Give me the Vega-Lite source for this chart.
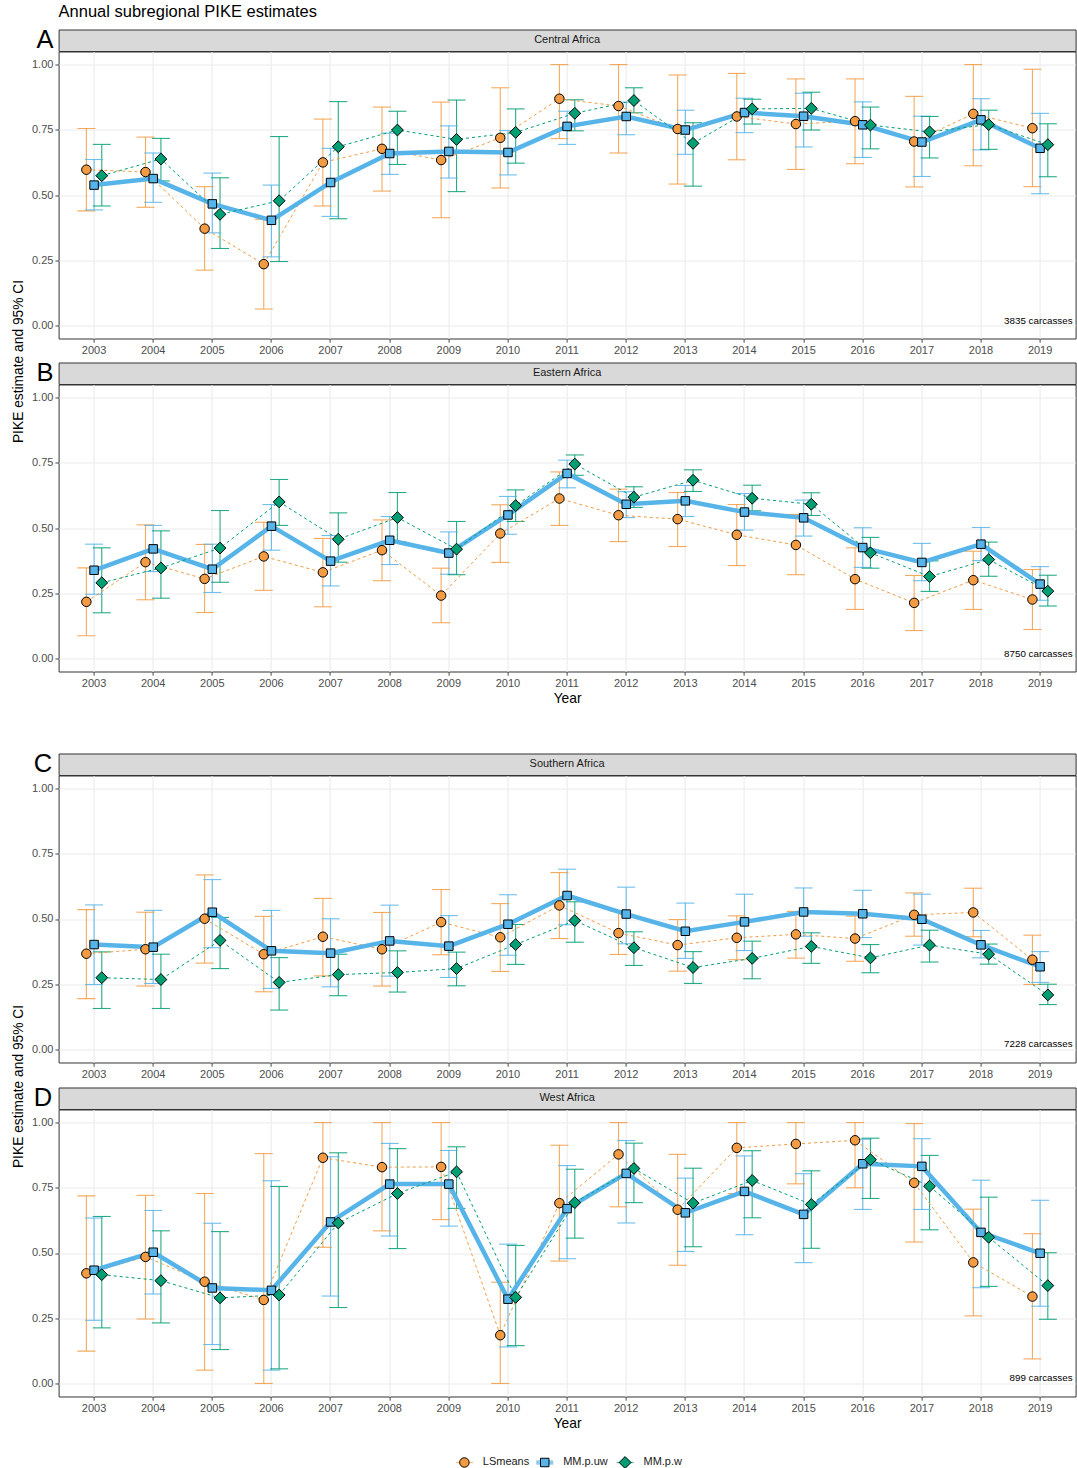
{
"$schema":"https://vega.github.io/schema/vega-lite/v6.json",
"background":"white",
"padding":{"left":10.6,"top":3.5,"right":2,"bottom":0},
"title":{"text":"Annual subregional PIKE estimates","anchor":"start","frame":"group","fontSize":16.5,"fontWeight":"normal","color":"#000","offset":7},
"config":{
 "font":"Liberation Sans",
 "view":{"stroke":"#333333","strokeWidth":1},
 "axis":{"domain":false,"labelColor":"#4D4D4D","labelFontSize":11,"labelPadding":2,"tickColor":"#333333","tickSize":3.7,"tickWidth":0.9,"gridColor":"#EBEBEB","gridWidth":1.1,"titleFontSize":13.8,"titleFontWeight":"normal","titleColor":"#000"}
},
"datasets":{
"central":[
{"year":2003,"method":"LSmeans","est":0.597,"lo":0.439,"hi":0.755},{"year":2003,"method":"MM.p.uw","est":0.538,"lo":0.443,"hi":0.636},{"year":2003,"method":"MM.p.w","est":0.574,"lo":0.458,"hi":0.694},
{"year":2004,"method":"LSmeans","est":0.588,"lo":0.453,"hi":0.722},{"year":2004,"method":"MM.p.uw","est":0.563,"lo":0.472,"hi":0.661},{"year":2004,"method":"MM.p.w","est":0.638,"lo":0.554,"hi":0.717},
{"year":2005,"method":"LSmeans","est":0.371,"lo":0.212,"hi":0.532},{"year":2005,"method":"MM.p.uw","est":0.466,"lo":0.355,"hi":0.584},{"year":2005,"method":"MM.p.w","est":0.426,"lo":0.295,"hi":0.566},
{"year":2006,"method":"LSmeans","est":0.235,"lo":0.063,"hi":0.407},{"year":2006,"method":"MM.p.uw","est":0.403,"lo":0.263,"hi":0.538},{"year":2006,"method":"MM.p.w","est":0.478,"lo":0.245,"hi":0.724},
{"year":2007,"method":"LSmeans","est":0.625,"lo":0.458,"hi":0.791},{"year":2007,"method":"MM.p.uw","est":0.548,"lo":0.418,"hi":0.679},{"year":2007,"method":"MM.p.w","est":0.685,"lo":0.409,"hi":0.858},
{"year":2008,"method":"LSmeans","est":0.677,"lo":0.515,"hi":0.837},{"year":2008,"method":"MM.p.uw","est":0.659,"lo":0.579,"hi":0.737},{"year":2008,"method":"MM.p.w","est":0.749,"lo":0.617,"hi":0.821},
{"year":2009,"method":"LSmeans","est":0.634,"lo":0.413,"hi":0.856},{"year":2009,"method":"MM.p.uw","est":0.667,"lo":0.565,"hi":0.765},{"year":2009,"method":"MM.p.w","est":0.713,"lo":0.513,"hi":0.864},
{"year":2010,"method":"LSmeans","est":0.719,"lo":0.527,"hi":0.911},{"year":2010,"method":"MM.p.uw","est":0.663,"lo":0.577,"hi":0.747},{"year":2010,"method":"MM.p.w","est":0.740,"lo":0.622,"hi":0.830},
{"year":2011,"method":"LSmeans","est":0.869,"lo":0.716,"hi":1.0},{"year":2011,"method":"MM.p.uw","est":0.763,"lo":0.694,"hi":0.821},{"year":2011,"method":"MM.p.w","est":0.813,"lo":0.746,"hi":0.865},
{"year":2012,"method":"LSmeans","est":0.841,"lo":0.661,"hi":1.0},{"year":2012,"method":"MM.p.uw","est":0.801,"lo":0.731,"hi":0.856},{"year":2012,"method":"MM.p.w","est":0.862,"lo":0.815,"hi":0.911},
{"year":2013,"method":"LSmeans","est":0.753,"lo":0.542,"hi":0.960},{"year":2013,"method":"MM.p.uw","est":0.749,"lo":0.656,"hi":0.825},{"year":2013,"method":"MM.p.w","est":0.698,"lo":0.534,"hi":0.777},
{"year":2014,"method":"LSmeans","est":0.801,"lo":0.635,"hi":0.966},{"year":2014,"method":"MM.p.uw","est":0.816,"lo":0.739,"hi":0.871},{"year":2014,"method":"MM.p.w","est":0.830,"lo":0.772,"hi":0.867},
{"year":2015,"method":"LSmeans","est":0.772,"lo":0.598,"hi":0.945},{"year":2015,"method":"MM.p.uw","est":0.802,"lo":0.684,"hi":0.890},{"year":2015,"method":"MM.p.w","est":0.832,"lo":0.749,"hi":0.894},
{"year":2016,"method":"LSmeans","est":0.783,"lo":0.620,"hi":0.945},{"year":2016,"method":"MM.p.uw","est":0.769,"lo":0.644,"hi":0.857},{"year":2016,"method":"MM.p.w","est":0.768,"lo":0.677,"hi":0.837},
{"year":2017,"method":"LSmeans","est":0.705,"lo":0.531,"hi":0.878},{"year":2017,"method":"MM.p.uw","est":0.703,"lo":0.571,"hi":0.802},{"year":2017,"method":"MM.p.w","est":0.742,"lo":0.642,"hi":0.801},
{"year":2018,"method":"LSmeans","est":0.811,"lo":0.612,"hi":1.0},{"year":2018,"method":"MM.p.uw","est":0.788,"lo":0.673,"hi":0.869},{"year":2018,"method":"MM.p.w","est":0.770,"lo":0.675,"hi":0.825},
{"year":2019,"method":"LSmeans","est":0.756,"lo":0.532,"hi":0.982},{"year":2019,"method":"MM.p.uw","est":0.679,"lo":0.505,"hi":0.813},{"year":2019,"method":"MM.p.w","est":0.693,"lo":0.570,"hi":0.773}
],
"eastern":[
{"year":2003,"method":"LSmeans","est":0.217,"lo":0.087,"hi":0.347},{"year":2003,"method":"MM.p.uw","est":0.338,"lo":0.246,"hi":0.438},{"year":2003,"method":"MM.p.w","est":0.290,"lo":0.175,"hi":0.424},
{"year":2004,"method":"LSmeans","est":0.369,"lo":0.225,"hi":0.512},{"year":2004,"method":"MM.p.uw","est":0.420,"lo":0.333,"hi":0.510},{"year":2004,"method":"MM.p.w","est":0.347,"lo":0.231,"hi":0.489},
{"year":2005,"method":"LSmeans","est":0.305,"lo":0.176,"hi":0.437},{"year":2005,"method":"MM.p.uw","est":0.342,"lo":0.253,"hi":0.438},{"year":2005,"method":"MM.p.w","est":0.423,"lo":0.292,"hi":0.567},
{"year":2006,"method":"LSmeans","est":0.391,"lo":0.261,"hi":0.522},{"year":2006,"method":"MM.p.uw","est":0.507,"lo":0.415,"hi":0.590},{"year":2006,"method":"MM.p.w","est":0.600,"lo":0.510,"hi":0.686},
{"year":2007,"method":"LSmeans","est":0.330,"lo":0.198,"hi":0.460},{"year":2007,"method":"MM.p.uw","est":0.373,"lo":0.278,"hi":0.471},{"year":2007,"method":"MM.p.w","est":0.457,"lo":0.369,"hi":0.558},
{"year":2008,"method":"LSmeans","est":0.415,"lo":0.298,"hi":0.531},{"year":2008,"method":"MM.p.uw","est":0.453,"lo":0.360,"hi":0.544},{"year":2008,"method":"MM.p.w","est":0.540,"lo":0.447,"hi":0.636},
{"year":2009,"method":"LSmeans","est":0.241,"lo":0.137,"hi":0.346},{"year":2009,"method":"MM.p.uw","est":0.404,"lo":0.323,"hi":0.485},{"year":2009,"method":"MM.p.w","est":0.419,"lo":0.321,"hi":0.525},
{"year":2010,"method":"LSmeans","est":0.479,"lo":0.368,"hi":0.589},{"year":2010,"method":"MM.p.uw","est":0.550,"lo":0.476,"hi":0.621},{"year":2010,"method":"MM.p.w","est":0.586,"lo":0.525,"hi":0.646},
{"year":2011,"method":"LSmeans","est":0.613,"lo":0.510,"hi":0.715},{"year":2011,"method":"MM.p.uw","est":0.709,"lo":0.654,"hi":0.760},{"year":2011,"method":"MM.p.w","est":0.745,"lo":0.702,"hi":0.780},
{"year":2012,"method":"LSmeans","est":0.549,"lo":0.448,"hi":0.649},{"year":2012,"method":"MM.p.uw","est":0.591,"lo":0.540,"hi":0.639},{"year":2012,"method":"MM.p.w","est":0.618,"lo":0.579,"hi":0.658},
{"year":2013,"method":"LSmeans","est":0.534,"lo":0.429,"hi":0.636},{"year":2013,"method":"MM.p.uw","est":0.604,"lo":0.544,"hi":0.663},{"year":2013,"method":"MM.p.w","est":0.683,"lo":0.640,"hi":0.723},
{"year":2014,"method":"LSmeans","est":0.474,"lo":0.356,"hi":0.590},{"year":2014,"method":"MM.p.uw","est":0.561,"lo":0.492,"hi":0.632},{"year":2014,"method":"MM.p.w","est":0.614,"lo":0.566,"hi":0.664},
{"year":2015,"method":"LSmeans","est":0.435,"lo":0.321,"hi":0.552},{"year":2015,"method":"MM.p.uw","est":0.539,"lo":0.469,"hi":0.607},{"year":2015,"method":"MM.p.w","est":0.591,"lo":0.548,"hi":0.635},
{"year":2016,"method":"LSmeans","est":0.304,"lo":0.188,"hi":0.424},{"year":2016,"method":"MM.p.uw","est":0.425,"lo":0.349,"hi":0.501},{"year":2016,"method":"MM.p.w","est":0.405,"lo":0.346,"hi":0.464},
{"year":2017,"method":"LSmeans","est":0.213,"lo":0.107,"hi":0.318},{"year":2017,"method":"MM.p.uw","est":0.368,"lo":0.298,"hi":0.441},{"year":2017,"method":"MM.p.w","est":0.314,"lo":0.257,"hi":0.374},
{"year":2018,"method":"LSmeans","est":0.300,"lo":0.188,"hi":0.411},{"year":2018,"method":"MM.p.uw","est":0.438,"lo":0.375,"hi":0.502},{"year":2018,"method":"MM.p.w","est":0.379,"lo":0.315,"hi":0.446},
{"year":2019,"method":"LSmeans","est":0.226,"lo":0.111,"hi":0.341},{"year":2019,"method":"MM.p.uw","est":0.285,"lo":0.223,"hi":0.352},{"year":2019,"method":"MM.p.w","est":0.258,"lo":0.201,"hi":0.319}
],
"southern":[
{"year":2003,"method":"LSmeans","est":0.367,"lo":0.195,"hi":0.536},{"year":2003,"method":"MM.p.uw","est":0.402,"lo":0.249,"hi":0.554},{"year":2003,"method":"MM.p.w","est":0.275,"lo":0.157,"hi":0.374},
{"year":2004,"method":"LSmeans","est":0.384,"lo":0.243,"hi":0.526},{"year":2004,"method":"MM.p.uw","est":0.392,"lo":0.253,"hi":0.533},{"year":2004,"method":"MM.p.w","est":0.268,"lo":0.157,"hi":0.365},
{"year":2005,"method":"LSmeans","est":0.501,"lo":0.331,"hi":0.669},{"year":2005,"method":"MM.p.uw","est":0.526,"lo":0.390,"hi":0.651},{"year":2005,"method":"MM.p.w","est":0.418,"lo":0.310,"hi":0.506},
{"year":2006,"method":"LSmeans","est":0.365,"lo":0.221,"hi":0.510},{"year":2006,"method":"MM.p.uw","est":0.378,"lo":0.234,"hi":0.533},{"year":2006,"method":"MM.p.w","est":0.257,"lo":0.151,"hi":0.352},
{"year":2007,"method":"LSmeans","est":0.432,"lo":0.282,"hi":0.579},{"year":2007,"method":"MM.p.uw","est":0.369,"lo":0.240,"hi":0.501},{"year":2007,"method":"MM.p.w","est":0.287,"lo":0.206,"hi":0.365},
{"year":2008,"method":"LSmeans","est":0.384,"lo":0.243,"hi":0.525},{"year":2008,"method":"MM.p.uw","est":0.416,"lo":0.281,"hi":0.553},{"year":2008,"method":"MM.p.w","est":0.295,"lo":0.220,"hi":0.378},
{"year":2009,"method":"LSmeans","est":0.488,"lo":0.363,"hi":0.613},{"year":2009,"method":"MM.p.uw","est":0.396,"lo":0.276,"hi":0.513},{"year":2009,"method":"MM.p.w","est":0.310,"lo":0.244,"hi":0.373},
{"year":2010,"method":"LSmeans","est":0.430,"lo":0.299,"hi":0.559},{"year":2010,"method":"MM.p.uw","est":0.480,"lo":0.361,"hi":0.593},{"year":2010,"method":"MM.p.w","est":0.402,"lo":0.326,"hi":0.479},
{"year":2011,"method":"LSmeans","est":0.552,"lo":0.425,"hi":0.678},{"year":2011,"method":"MM.p.uw","est":0.590,"lo":0.478,"hi":0.691},{"year":2011,"method":"MM.p.w","est":0.494,"lo":0.411,"hi":0.566},
{"year":2012,"method":"LSmeans","est":0.446,"lo":0.364,"hi":0.531},{"year":2012,"method":"MM.p.uw","est":0.519,"lo":0.405,"hi":0.622},{"year":2012,"method":"MM.p.w","est":0.390,"lo":0.322,"hi":0.451},
{"year":2013,"method":"LSmeans","est":0.400,"lo":0.300,"hi":0.498},{"year":2013,"method":"MM.p.uw","est":0.453,"lo":0.349,"hi":0.561},{"year":2013,"method":"MM.p.w","est":0.314,"lo":0.253,"hi":0.375},
{"year":2014,"method":"LSmeans","est":0.428,"lo":0.344,"hi":0.512},{"year":2014,"method":"MM.p.uw","est":0.489,"lo":0.379,"hi":0.595},{"year":2014,"method":"MM.p.w","est":0.349,"lo":0.271,"hi":0.415},
{"year":2015,"method":"LSmeans","est":0.441,"lo":0.350,"hi":0.529},{"year":2015,"method":"MM.p.uw","est":0.527,"lo":0.434,"hi":0.619},{"year":2015,"method":"MM.p.w","est":0.395,"lo":0.330,"hi":0.447},
{"year":2016,"method":"LSmeans","est":0.425,"lo":0.338,"hi":0.511},{"year":2016,"method":"MM.p.uw","est":0.520,"lo":0.429,"hi":0.610},{"year":2016,"method":"MM.p.w","est":0.351,"lo":0.294,"hi":0.402},
{"year":2017,"method":"LSmeans","est":0.516,"lo":0.434,"hi":0.600},{"year":2017,"method":"MM.p.uw","est":0.499,"lo":0.400,"hi":0.595},{"year":2017,"method":"MM.p.w","est":0.400,"lo":0.335,"hi":0.457},
{"year":2018,"method":"LSmeans","est":0.525,"lo":0.432,"hi":0.618},{"year":2018,"method":"MM.p.uw","est":0.401,"lo":0.351,"hi":0.456},{"year":2018,"method":"MM.p.w","est":0.365,"lo":0.327,"hi":0.404},
{"year":2019,"method":"LSmeans","est":0.344,"lo":0.249,"hi":0.438},{"year":2019,"method":"MM.p.uw","est":0.317,"lo":0.257,"hi":0.375},{"year":2019,"method":"MM.p.w","est":0.209,"lo":0.172,"hi":0.250}
],
"west":[
{"year":2003,"method":"LSmeans","est":0.422,"lo":0.124,"hi":0.719},{"year":2003,"method":"MM.p.uw","est":0.434,"lo":0.242,"hi":0.634},{"year":2003,"method":"MM.p.w","est":0.417,"lo":0.213,"hi":0.640},
{"year":2004,"method":"LSmeans","est":0.485,"lo":0.247,"hi":0.721},{"year":2004,"method":"MM.p.uw","est":0.503,"lo":0.343,"hi":0.663},{"year":2004,"method":"MM.p.w","est":0.394,"lo":0.232,"hi":0.585},
{"year":2005,"method":"LSmeans","est":0.390,"lo":0.051,"hi":0.728},{"year":2005,"method":"MM.p.uw","est":0.366,"lo":0.149,"hi":0.614},{"year":2005,"method":"MM.p.w","est":0.328,"lo":0.130,"hi":0.582},
{"year":2006,"method":"LSmeans","est":0.320,"lo":0.0,"hi":0.881},{"year":2006,"method":"MM.p.uw","est":0.357,"lo":0.051,"hi":0.777},{"year":2006,"method":"MM.p.w","est":0.339,"lo":0.056,"hi":0.755},
{"year":2007,"method":"LSmeans","est":0.865,"lo":0.522,"hi":1.0},{"year":2007,"method":"MM.p.uw","est":0.619,"lo":0.335,"hi":0.869},{"year":2007,"method":"MM.p.w","est":0.615,"lo":0.291,"hi":0.884},
{"year":2008,"method":"LSmeans","est":0.829,"lo":0.585,"hi":1.0},{"year":2008,"method":"MM.p.uw","est":0.764,"lo":0.565,"hi":0.920},{"year":2008,"method":"MM.p.w","est":0.728,"lo":0.517,"hi":0.900},
{"year":2009,"method":"LSmeans","est":0.830,"lo":0.628,"hi":1.0},{"year":2009,"method":"MM.p.uw","est":0.764,"lo":0.603,"hi":0.893},{"year":2009,"method":"MM.p.w","est":0.811,"lo":0.671,"hi":0.907},
{"year":2010,"method":"LSmeans","est":0.185,"lo":0.0,"hi":0.388},{"year":2010,"method":"MM.p.uw","est":0.323,"lo":0.140,"hi":0.534},{"year":2010,"method":"MM.p.w","est":0.330,"lo":0.145,"hi":0.529},
{"year":2011,"method":"LSmeans","est":0.691,"lo":0.469,"hi":0.913},{"year":2011,"method":"MM.p.uw","est":0.670,"lo":0.478,"hi":0.835},{"year":2011,"method":"MM.p.w","est":0.693,"lo":0.557,"hi":0.821},
{"year":2012,"method":"LSmeans","est":0.878,"lo":0.677,"hi":1.0},{"year":2012,"method":"MM.p.uw","est":0.805,"lo":0.615,"hi":0.931},{"year":2012,"method":"MM.p.w","est":0.824,"lo":0.693,"hi":0.921},
{"year":2013,"method":"LSmeans","est":0.666,"lo":0.453,"hi":0.878},{"year":2013,"method":"MM.p.uw","est":0.654,"lo":0.506,"hi":0.787},{"year":2013,"method":"MM.p.w","est":0.691,"lo":0.524,"hi":0.825},
{"year":2014,"method":"LSmeans","est":0.903,"lo":0.728,"hi":1.0},{"year":2014,"method":"MM.p.uw","est":0.736,"lo":0.570,"hi":0.872},{"year":2014,"method":"MM.p.w","est":0.778,"lo":0.635,"hi":0.892},
{"year":2015,"method":"LSmeans","est":0.918,"lo":0.765,"hi":1.0},{"year":2015,"method":"MM.p.uw","est":0.648,"lo":0.463,"hi":0.804},{"year":2015,"method":"MM.p.w","est":0.686,"lo":0.518,"hi":0.815},
{"year":2016,"method":"LSmeans","est":0.932,"lo":0.750,"hi":1.0},{"year":2016,"method":"MM.p.uw","est":0.842,"lo":0.667,"hi":0.936},{"year":2016,"method":"MM.p.w","est":0.858,"lo":0.709,"hi":0.940},
{"year":2017,"method":"LSmeans","est":0.769,"lo":0.542,"hi":0.996},{"year":2017,"method":"MM.p.uw","est":0.832,"lo":0.667,"hi":0.938},{"year":2017,"method":"MM.p.w","est":0.756,"lo":0.589,"hi":0.874},
{"year":2018,"method":"LSmeans","est":0.464,"lo":0.259,"hi":0.668},{"year":2018,"method":"MM.p.uw","est":0.579,"lo":0.367,"hi":0.779},{"year":2018,"method":"MM.p.w","est":0.560,"lo":0.372,"hi":0.714},
{"year":2019,"method":"LSmeans","est":0.333,"lo":0.094,"hi":0.574},{"year":2019,"method":"MM.p.uw","est":0.499,"lo":0.296,"hi":0.702},{"year":2019,"method":"MM.p.w","est":0.375,"lo":0.246,"hi":0.501}
],
"methods":[{"method":"LSmeans"},{"method":"MM.p.uw"},{"method":"MM.p.w"}]
},
"bounds":"flush",
"spacing":0,
"vconcat":[
{"width":1017,"height":21.5,"data":{"values":[{"lab":"Central Africa"}]},"mark":{"type":"text","fontSize":11,"color":"#1A1A1A"},"encoding":{"text":{"field":"lab"}},"view":{"fill":"#D9D9D9","stroke":"#333333"},"title":{"text":"A","orient":"left","angle":0,"fontSize":25.5,"fontWeight":"normal","color":"#000","anchor":"middle","align":"right","baseline":"middle","offset":-12}},
{"width":1017,"height":287,"data":{"name":"central"},"layer":[
 {"mark":{"type":"rule","strokeWidth":1.1,"opacity":0.85},"encoding":{
  "x":{"field":"year","type":"ordinal","scale":{"type":"band","paddingInner":0,"paddingOuter":0.1},"axis":{"title":null,"labelAngle":0,"grid":true,"bandPosition":0.5}},
  "xOffset":{"field":"method","type":"nominal","scale":{"type":"band","paddingInner":0,"paddingOuter":0,"domain":["LSmeans","MM.p.uw","MM.p.w"],"range":[18.01,41.11]}},
  "y":{"field":"lo","type":"quantitative","scale":{"domain":[-0.05,1.05],"nice":false,"zero":false},"axis":{"title":null,"values":[0,0.125,0.25,0.375,0.5,0.625,0.75,0.875,1],"labelExpr":"datum.value % 0.25 === 0 ? format(datum.value, '.2f') : ''","gridWidth":{"condition":{"test":"datum.value % 0.25 === 0","value":1.1},"value":0.55},"tickOpacity":{"condition":{"test":"datum.value % 0.25 === 0","value":1},"value":0}}},
  "y2":{"field":"hi"},
  "color":{"field":"method","type":"nominal","scale":{"domain":["LSmeans","MM.p.uw","MM.p.w"],"range":["#F29B43","#56B4E9","#009E73"]},"legend":null}}},
 {"mark":{"type":"tick","orient":"horizontal","size":18,"thickness":1.1,"opacity":0.85},"encoding":{"x":{"field":"year","type":"ordinal"},"xOffset":{"field":"method","type":"nominal"},"y":{"field":"lo","type":"quantitative"},"color":{"field":"method","type":"nominal","legend":null}}},
 {"mark":{"type":"tick","orient":"horizontal","size":18,"thickness":1.1,"opacity":0.85},"encoding":{"x":{"field":"year","type":"ordinal"},"xOffset":{"field":"method","type":"nominal"},"y":{"field":"hi","type":"quantitative"},"color":{"field":"method","type":"nominal","legend":null}}},
 {"transform":[{"filter":"datum.method === 'LSmeans'"}],"mark":{"type":"line","color":"#F29B43","strokeWidth":1,"strokeDash":[3,3]},"encoding":{"x":{"field":"year","type":"ordinal"},"xOffset":{"field":"method","type":"nominal"},"y":{"field":"est","type":"quantitative"}}},
 {"transform":[{"filter":"datum.method === 'MM.p.uw'"}],"mark":{"type":"line","color":"#56B4E9","strokeWidth":4.5},"encoding":{"x":{"field":"year","type":"ordinal"},"xOffset":{"field":"method","type":"nominal"},"y":{"field":"est","type":"quantitative"}}},
 {"transform":[{"filter":"datum.method === 'MM.p.w'"}],"mark":{"type":"line","color":"#009E73","strokeWidth":1,"strokeDash":[3,3]},"encoding":{"x":{"field":"year","type":"ordinal"},"xOffset":{"field":"method","type":"nominal"},"y":{"field":"est","type":"quantitative"}}},
 {"transform":[{"filter":"datum.method === 'LSmeans'"}],"mark":{"type":"point","shape":"circle","size":90,"filled":true,"fill":"#F29B43","stroke":"#000","strokeWidth":1,"opacity":1},"encoding":{"x":{"field":"year","type":"ordinal"},"xOffset":{"field":"method","type":"nominal"},"y":{"field":"est","type":"quantitative"}}},
 {"transform":[{"filter":"datum.method === 'MM.p.uw'"}],"mark":{"type":"point","shape":"square","size":72,"filled":true,"fill":"#56B4E9","stroke":"#000","strokeWidth":1,"opacity":1},"encoding":{"x":{"field":"year","type":"ordinal"},"xOffset":{"field":"method","type":"nominal"},"y":{"field":"est","type":"quantitative"}}},
 {"transform":[{"filter":"datum.method === 'MM.p.w'"}],"mark":{"type":"point","shape":"diamond","size":140,"filled":true,"fill":"#009E73","stroke":"#000","strokeWidth":1,"opacity":1},"encoding":{"x":{"field":"year","type":"ordinal"},"xOffset":{"field":"method","type":"nominal"},"y":{"field":"est","type":"quantitative"}}},
 {"data":{"values":[{"t":"3835 carcasses"}]},"mark":{"type":"text","x":"width","y":"height","dx":-3,"dy":-18,"align":"right","baseline":"middle","fontSize":9.8,"color":"#000"},"encoding":{"text":{"field":"t"}}}
]},
{"width":1017,"height":24,"data":{"values":[]},"mark":"text","view":{"stroke":null}},
{"width":1017,"height":21.5,"data":{"values":[{"lab":"Eastern Africa"}]},"mark":{"type":"text","fontSize":11,"color":"#1A1A1A"},"encoding":{"text":{"field":"lab"}},"view":{"fill":"#D9D9D9","stroke":"#333333"},"title":{"text":"B","orient":"left","angle":0,"fontSize":25.5,"fontWeight":"normal","color":"#000","anchor":"middle","align":"right","baseline":"middle","offset":-12}},
{"width":1017,"height":287,"data":{"name":"eastern"},"layer":[
 {"mark":{"type":"rule","strokeWidth":1.1,"opacity":0.85},"encoding":{
  "x":{"field":"year","type":"ordinal","scale":{"type":"band","paddingInner":0,"paddingOuter":0.1},"axis":{"title":"Year","labelAngle":0,"grid":true,"bandPosition":0.5,"titlePadding":3}},
  "xOffset":{"field":"method","type":"nominal","scale":{"type":"band","paddingInner":0,"paddingOuter":0,"domain":["LSmeans","MM.p.uw","MM.p.w"],"range":[18.01,41.11]}},
  "y":{"field":"lo","type":"quantitative","scale":{"domain":[-0.05,1.05],"nice":false,"zero":false},"axis":{"title":"PIKE estimate and 95% CI","titleX":-40,"titleY":-23.5,"titleBaseline":"middle","values":[0,0.125,0.25,0.375,0.5,0.625,0.75,0.875,1],"labelExpr":"datum.value % 0.25 === 0 ? format(datum.value, '.2f') : ''","gridWidth":{"condition":{"test":"datum.value % 0.25 === 0","value":1.1},"value":0.55},"tickOpacity":{"condition":{"test":"datum.value % 0.25 === 0","value":1},"value":0}}},
  "y2":{"field":"hi"},
  "color":{"field":"method","type":"nominal","scale":{"domain":["LSmeans","MM.p.uw","MM.p.w"],"range":["#F29B43","#56B4E9","#009E73"]},"legend":null}}},
 {"mark":{"type":"tick","orient":"horizontal","size":18,"thickness":1.1,"opacity":0.85},"encoding":{"x":{"field":"year","type":"ordinal"},"xOffset":{"field":"method","type":"nominal"},"y":{"field":"lo","type":"quantitative"},"color":{"field":"method","type":"nominal","legend":null}}},
 {"mark":{"type":"tick","orient":"horizontal","size":18,"thickness":1.1,"opacity":0.85},"encoding":{"x":{"field":"year","type":"ordinal"},"xOffset":{"field":"method","type":"nominal"},"y":{"field":"hi","type":"quantitative"},"color":{"field":"method","type":"nominal","legend":null}}},
 {"transform":[{"filter":"datum.method === 'LSmeans'"}],"mark":{"type":"line","color":"#F29B43","strokeWidth":1,"strokeDash":[3,3]},"encoding":{"x":{"field":"year","type":"ordinal"},"xOffset":{"field":"method","type":"nominal"},"y":{"field":"est","type":"quantitative"}}},
 {"transform":[{"filter":"datum.method === 'MM.p.uw'"}],"mark":{"type":"line","color":"#56B4E9","strokeWidth":4.5},"encoding":{"x":{"field":"year","type":"ordinal"},"xOffset":{"field":"method","type":"nominal"},"y":{"field":"est","type":"quantitative"}}},
 {"transform":[{"filter":"datum.method === 'MM.p.w'"}],"mark":{"type":"line","color":"#009E73","strokeWidth":1,"strokeDash":[3,3]},"encoding":{"x":{"field":"year","type":"ordinal"},"xOffset":{"field":"method","type":"nominal"},"y":{"field":"est","type":"quantitative"}}},
 {"transform":[{"filter":"datum.method === 'LSmeans'"}],"mark":{"type":"point","shape":"circle","size":90,"filled":true,"fill":"#F29B43","stroke":"#000","strokeWidth":1,"opacity":1},"encoding":{"x":{"field":"year","type":"ordinal"},"xOffset":{"field":"method","type":"nominal"},"y":{"field":"est","type":"quantitative"}}},
 {"transform":[{"filter":"datum.method === 'MM.p.uw'"}],"mark":{"type":"point","shape":"square","size":72,"filled":true,"fill":"#56B4E9","stroke":"#000","strokeWidth":1,"opacity":1},"encoding":{"x":{"field":"year","type":"ordinal"},"xOffset":{"field":"method","type":"nominal"},"y":{"field":"est","type":"quantitative"}}},
 {"transform":[{"filter":"datum.method === 'MM.p.w'"}],"mark":{"type":"point","shape":"diamond","size":140,"filled":true,"fill":"#009E73","stroke":"#000","strokeWidth":1,"opacity":1},"encoding":{"x":{"field":"year","type":"ordinal"},"xOffset":{"field":"method","type":"nominal"},"y":{"field":"est","type":"quantitative"}}},
 {"data":{"values":[{"t":"8750 carcasses"}]},"mark":{"type":"text","x":"width","y":"height","dx":-3,"dy":-18,"align":"right","baseline":"middle","fontSize":9.8,"color":"#000"},"encoding":{"text":{"field":"t"}}}
]},
{"width":1017,"height":81.5,"data":{"values":[]},"mark":"text","view":{"stroke":null}},
{"width":1017,"height":21.5,"data":{"values":[{"lab":"Southern Africa"}]},"mark":{"type":"text","fontSize":11,"color":"#1A1A1A"},"encoding":{"text":{"field":"lab"}},"view":{"fill":"#D9D9D9","stroke":"#333333"},"title":{"text":"C","orient":"left","angle":0,"fontSize":25.5,"fontWeight":"normal","color":"#000","anchor":"middle","align":"right","baseline":"middle","offset":-12}},
{"width":1017,"height":287,"data":{"name":"southern"},"layer":[
 {"mark":{"type":"rule","strokeWidth":1.1,"opacity":0.85},"encoding":{
  "x":{"field":"year","type":"ordinal","scale":{"type":"band","paddingInner":0,"paddingOuter":0.1},"axis":{"title":null,"labelAngle":0,"grid":true,"bandPosition":0.5}},
  "xOffset":{"field":"method","type":"nominal","scale":{"type":"band","paddingInner":0,"paddingOuter":0,"domain":["LSmeans","MM.p.uw","MM.p.w"],"range":[18.01,41.11]}},
  "y":{"field":"lo","type":"quantitative","scale":{"domain":[-0.05,1.05],"nice":false,"zero":false},"axis":{"title":null,"values":[0,0.125,0.25,0.375,0.5,0.625,0.75,0.875,1],"labelExpr":"datum.value % 0.25 === 0 ? format(datum.value, '.2f') : ''","gridWidth":{"condition":{"test":"datum.value % 0.25 === 0","value":1.1},"value":0.55},"tickOpacity":{"condition":{"test":"datum.value % 0.25 === 0","value":1},"value":0}}},
  "y2":{"field":"hi"},
  "color":{"field":"method","type":"nominal","scale":{"domain":["LSmeans","MM.p.uw","MM.p.w"],"range":["#F29B43","#56B4E9","#009E73"]},"legend":null}}},
 {"mark":{"type":"tick","orient":"horizontal","size":18,"thickness":1.1,"opacity":0.85},"encoding":{"x":{"field":"year","type":"ordinal"},"xOffset":{"field":"method","type":"nominal"},"y":{"field":"lo","type":"quantitative"},"color":{"field":"method","type":"nominal","legend":null}}},
 {"mark":{"type":"tick","orient":"horizontal","size":18,"thickness":1.1,"opacity":0.85},"encoding":{"x":{"field":"year","type":"ordinal"},"xOffset":{"field":"method","type":"nominal"},"y":{"field":"hi","type":"quantitative"},"color":{"field":"method","type":"nominal","legend":null}}},
 {"transform":[{"filter":"datum.method === 'LSmeans'"}],"mark":{"type":"line","color":"#F29B43","strokeWidth":1,"strokeDash":[3,3]},"encoding":{"x":{"field":"year","type":"ordinal"},"xOffset":{"field":"method","type":"nominal"},"y":{"field":"est","type":"quantitative"}}},
 {"transform":[{"filter":"datum.method === 'MM.p.uw'"}],"mark":{"type":"line","color":"#56B4E9","strokeWidth":4.5},"encoding":{"x":{"field":"year","type":"ordinal"},"xOffset":{"field":"method","type":"nominal"},"y":{"field":"est","type":"quantitative"}}},
 {"transform":[{"filter":"datum.method === 'MM.p.w'"}],"mark":{"type":"line","color":"#009E73","strokeWidth":1,"strokeDash":[3,3]},"encoding":{"x":{"field":"year","type":"ordinal"},"xOffset":{"field":"method","type":"nominal"},"y":{"field":"est","type":"quantitative"}}},
 {"transform":[{"filter":"datum.method === 'LSmeans'"}],"mark":{"type":"point","shape":"circle","size":90,"filled":true,"fill":"#F29B43","stroke":"#000","strokeWidth":1,"opacity":1},"encoding":{"x":{"field":"year","type":"ordinal"},"xOffset":{"field":"method","type":"nominal"},"y":{"field":"est","type":"quantitative"}}},
 {"transform":[{"filter":"datum.method === 'MM.p.uw'"}],"mark":{"type":"point","shape":"square","size":72,"filled":true,"fill":"#56B4E9","stroke":"#000","strokeWidth":1,"opacity":1},"encoding":{"x":{"field":"year","type":"ordinal"},"xOffset":{"field":"method","type":"nominal"},"y":{"field":"est","type":"quantitative"}}},
 {"transform":[{"filter":"datum.method === 'MM.p.w'"}],"mark":{"type":"point","shape":"diamond","size":140,"filled":true,"fill":"#009E73","stroke":"#000","strokeWidth":1,"opacity":1},"encoding":{"x":{"field":"year","type":"ordinal"},"xOffset":{"field":"method","type":"nominal"},"y":{"field":"est","type":"quantitative"}}},
 {"data":{"values":[{"t":"7228 carcasses"}]},"mark":{"type":"text","x":"width","y":"height","dx":-3,"dy":-18,"align":"right","baseline":"middle","fontSize":9.8,"color":"#000"},"encoding":{"text":{"field":"t"}}}
]},
{"width":1017,"height":24.5,"data":{"values":[]},"mark":"text","view":{"stroke":null}},
{"width":1017,"height":21.5,"data":{"values":[{"lab":"West Africa"}]},"mark":{"type":"text","fontSize":11,"color":"#1A1A1A"},"encoding":{"text":{"field":"lab"}},"view":{"fill":"#D9D9D9","stroke":"#333333"},"title":{"text":"D","orient":"left","angle":0,"fontSize":25.5,"fontWeight":"normal","color":"#000","anchor":"middle","align":"right","baseline":"middle","offset":-12}},
{"width":1017,"height":287,"data":{"name":"west"},"layer":[
 {"mark":{"type":"rule","strokeWidth":1.1,"opacity":0.85},"encoding":{
  "x":{"field":"year","type":"ordinal","scale":{"type":"band","paddingInner":0,"paddingOuter":0.1},"axis":{"title":"Year","labelAngle":0,"grid":true,"bandPosition":0.5,"titlePadding":3}},
  "xOffset":{"field":"method","type":"nominal","scale":{"type":"band","paddingInner":0,"paddingOuter":0,"domain":["LSmeans","MM.p.uw","MM.p.w"],"range":[18.01,41.11]}},
  "y":{"field":"lo","type":"quantitative","scale":{"domain":[-0.05,1.05],"nice":false,"zero":false},"axis":{"title":"PIKE estimate and 95% CI","titleX":-40,"titleY":-23.5,"titleBaseline":"middle","values":[0,0.125,0.25,0.375,0.5,0.625,0.75,0.875,1],"labelExpr":"datum.value % 0.25 === 0 ? format(datum.value, '.2f') : ''","gridWidth":{"condition":{"test":"datum.value % 0.25 === 0","value":1.1},"value":0.55},"tickOpacity":{"condition":{"test":"datum.value % 0.25 === 0","value":1},"value":0}}},
  "y2":{"field":"hi"},
  "color":{"field":"method","type":"nominal","scale":{"domain":["LSmeans","MM.p.uw","MM.p.w"],"range":["#F29B43","#56B4E9","#009E73"]},"legend":null}}},
 {"mark":{"type":"tick","orient":"horizontal","size":18,"thickness":1.1,"opacity":0.85},"encoding":{"x":{"field":"year","type":"ordinal"},"xOffset":{"field":"method","type":"nominal"},"y":{"field":"lo","type":"quantitative"},"color":{"field":"method","type":"nominal","legend":null}}},
 {"mark":{"type":"tick","orient":"horizontal","size":18,"thickness":1.1,"opacity":0.85},"encoding":{"x":{"field":"year","type":"ordinal"},"xOffset":{"field":"method","type":"nominal"},"y":{"field":"hi","type":"quantitative"},"color":{"field":"method","type":"nominal","legend":null}}},
 {"transform":[{"filter":"datum.method === 'LSmeans'"}],"mark":{"type":"line","color":"#F29B43","strokeWidth":1,"strokeDash":[3,3]},"encoding":{"x":{"field":"year","type":"ordinal"},"xOffset":{"field":"method","type":"nominal"},"y":{"field":"est","type":"quantitative"}}},
 {"transform":[{"filter":"datum.method === 'MM.p.uw'"}],"mark":{"type":"line","color":"#56B4E9","strokeWidth":4.5},"encoding":{"x":{"field":"year","type":"ordinal"},"xOffset":{"field":"method","type":"nominal"},"y":{"field":"est","type":"quantitative"}}},
 {"transform":[{"filter":"datum.method === 'MM.p.w'"}],"mark":{"type":"line","color":"#009E73","strokeWidth":1,"strokeDash":[3,3]},"encoding":{"x":{"field":"year","type":"ordinal"},"xOffset":{"field":"method","type":"nominal"},"y":{"field":"est","type":"quantitative"}}},
 {"transform":[{"filter":"datum.method === 'LSmeans'"}],"mark":{"type":"point","shape":"circle","size":90,"filled":true,"fill":"#F29B43","stroke":"#000","strokeWidth":1,"opacity":1},"encoding":{"x":{"field":"year","type":"ordinal"},"xOffset":{"field":"method","type":"nominal"},"y":{"field":"est","type":"quantitative"}}},
 {"transform":[{"filter":"datum.method === 'MM.p.uw'"}],"mark":{"type":"point","shape":"square","size":72,"filled":true,"fill":"#56B4E9","stroke":"#000","strokeWidth":1,"opacity":1},"encoding":{"x":{"field":"year","type":"ordinal"},"xOffset":{"field":"method","type":"nominal"},"y":{"field":"est","type":"quantitative"}}},
 {"transform":[{"filter":"datum.method === 'MM.p.w'"}],"mark":{"type":"point","shape":"diamond","size":140,"filled":true,"fill":"#009E73","stroke":"#000","strokeWidth":1,"opacity":1},"encoding":{"x":{"field":"year","type":"ordinal"},"xOffset":{"field":"method","type":"nominal"},"y":{"field":"est","type":"quantitative"}}},
 {"data":{"values":[{"t":"899 carcasses"}]},"mark":{"type":"text","x":"width","y":"height","dx":-3,"dy":-18,"align":"right","baseline":"middle","fontSize":9.8,"color":"#000"},"encoding":{"text":{"field":"t"}}}
]},
{"width":1017,"height":56,"data":{"values":[]},"mark":"text","view":{"stroke":null}},
{"width":1017,"height":20,"data":{"name":"methods"},"view":{"stroke":null},
 "encoding":{"x":{"field":"method","type":"nominal","scale":{"type":"point","domain":["LSmeans","MM.p.uw","MM.p.w"],"range":[405.8,566.5],"padding":0},"axis":null}},
 "layer":[
  {"transform":[{"filter":"datum.method === 'LSmeans'"}],"mark":{"type":"tick","orient":"horizontal","size":17,"thickness":1.3,"color":"#F29B43"}},
  {"transform":[{"filter":"datum.method === 'MM.p.uw'"}],"mark":{"type":"tick","orient":"horizontal","size":17,"thickness":4.3,"color":"#56B4E9"}},
  {"transform":[{"filter":"datum.method === 'MM.p.w'"}],"mark":{"type":"tick","orient":"horizontal","size":17,"thickness":1.3,"color":"#009E73"}},
  {"transform":[{"filter":"datum.method === 'LSmeans'"}],"mark":{"type":"point","shape":"circle","size":90,"filled":true,"fill":"#F29B43","stroke":"#000","strokeWidth":1,"opacity":1}},
  {"transform":[{"filter":"datum.method === 'MM.p.uw'"}],"mark":{"type":"point","shape":"square","size":72,"filled":true,"fill":"#56B4E9","stroke":"#000","strokeWidth":1,"opacity":1}},
  {"transform":[{"filter":"datum.method === 'MM.p.w'"}],"mark":{"type":"point","shape":"diamond","size":140,"filled":true,"fill":"#009E73","stroke":"#000","strokeWidth":1,"opacity":1}},
  {"mark":{"type":"text","align":"left","baseline":"middle","dx":18.4,"fontSize":11,"color":"#1A1A1A"},"encoding":{"text":{"field":"method"}}}
 ]}
]
}
